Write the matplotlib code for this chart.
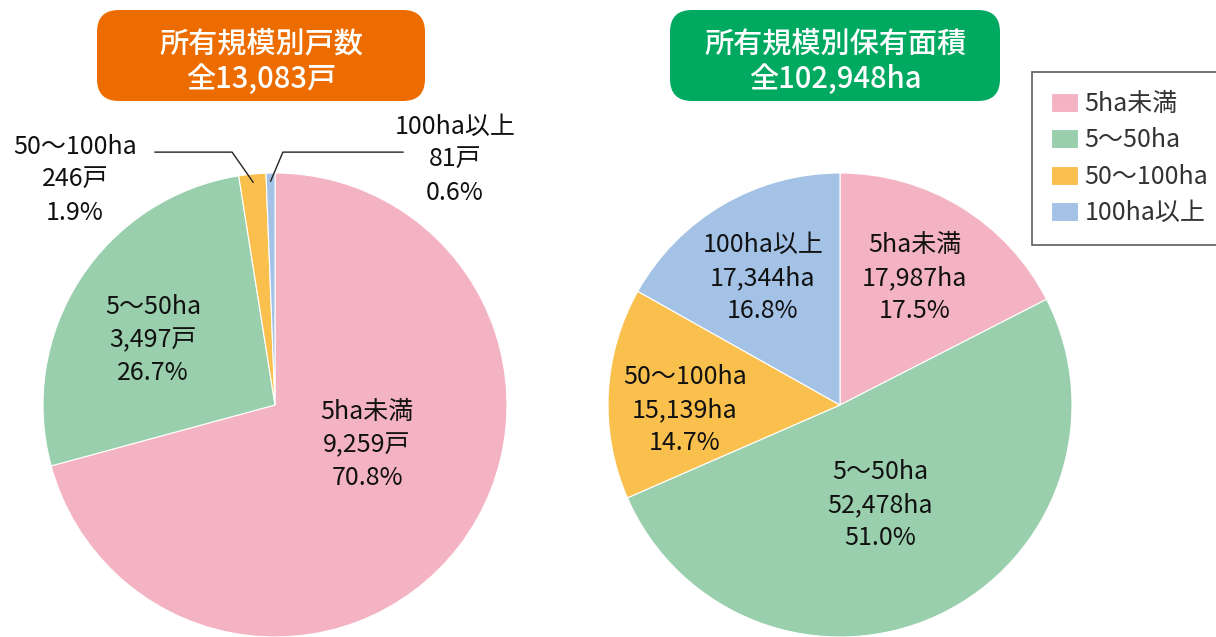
import matplotlib
matplotlib.use("Agg")
import matplotlib.pyplot as plt
from matplotlib.patches import FancyBboxPatch
import numpy as np

plt.rcParams['font.family'] = ['Noto Sans CJK JP', 'DejaVu Sans']

categories = ["5ha未満", "5〜50ha", "50〜100ha", "100ha以上"]
colors = ["#F4B3C2", "#99CFAD", "#F9C04E", "#A3C2E6"]

households = [9259, 3497, 246, 81]
household_pct = ["70.8%", "26.7%", "1.9%", "0.6%"]
household_title = "所有規模別戸数\n全13,083戸"

area = [17987, 52478, 15139, 17344]
area_pct = ["17.5%", "51.0%", "14.7%", "16.8%"]
area_title = "所有規模別保有面積\n全102,948ha"

W, H = 1216, 637
fig = plt.figure(figsize=(W / 100, H / 100), dpi=100)

R = 232
def pie_axes(cx, cy):
    return fig.add_axes([(cx - R) / W, (H - cy - R) / H, 2 * R / W, 2 * R / H])

ax1 = pie_axes(275, 405)
ax2 = pie_axes(840, 405)

wp = dict(edgecolor="white", linewidth=0.8)
w1, _ = ax1.pie(households, colors=colors, startangle=90, counterclock=False,
                wedgeprops=wp, radius=1)
w2, _ = ax2.pie(area, colors=colors, startangle=90, counterclock=False,
                wedgeprops=wp, radius=1)
for ax in (ax1, ax2):
    ax.set_xlim(-1, 1)
    ax.set_ylim(-1, 1)
    ax.set_aspect("equal")
    ax.axis("off")

fs = 18
tc = "#111111"
ls = 1.35
# label positions (data units, radius = 1)
pos1 = [(0.397, -0.172), (-0.526, 0.280), (-0.862, 0.970), (0.776, 1.056)]
pos2 = [(0.323, 0.547), (0.172, -0.431), (-0.668, -0.022), (-0.332, 0.547)]

for i, (c, v, p) in enumerate(zip(categories, households, household_pct)):
    ax1.text(pos1[i][0], pos1[i][1], f"{c}\n{v:,}戸\n{p}", ha="center", va="center",
             fontsize=fs, color=tc, linespacing=ls, clip_on=False)
for i, (c, v, p) in enumerate(zip(categories, area, area_pct)):
    ax2.text(pos2[i][0], pos2[i][1], f"{c}\n{v:,}ha\n{p}", ha="center", va="center",
             fontsize=fs, color=tc, linespacing=ls, clip_on=False)

# leader lines for small wedges
knees = {2: [(-0.517, 1.09), (-0.185, 1.09)], 3: [(0.552, 1.09), (0.034, 1.09)]}
for i, pts in knees.items():
    w = w1[i]
    ang = np.deg2rad((w.theta1 + w.theta2) / 2)
    end = (0.965 * np.cos(ang), 0.965 * np.sin(ang))
    xs = [pts[0][0], pts[1][0], end[0]]
    ys = [pts[0][1], pts[1][1], end[1]]
    ax1.plot(xs, ys, color="#222222", lw=1.0, clip_on=False)

# title boxes
def title_box(x0, x1, color, text):
    y_top, y_bot = 10, 101
    box = FancyBboxPatch((x0 / 100, (H - y_bot) / 100), (x1 - x0) / 100, (y_bot - y_top) / 100,
                         boxstyle="round,pad=0,rounding_size=0.22",
                         transform=fig.dpi_scale_trans, facecolor=color, edgecolor="none")
    fig.patches.append(box)
    fig.text((x0 + x1) / 2 / W, (H - 62) / H, text, ha="center", va="center",
             fontsize=21, color="white", linespacing=1.2, fontweight="medium")

title_box(97, 425, "#ED6C00", household_title)
title_box(670, 1000, "#00A960", area_title)

leg = fig.legend(w2, categories, loc="upper left",
                 bbox_to_anchor=(1032 / W, (H - 72) / H),
                 fontsize=fs, frameon=True, fancybox=False, edgecolor="#333333",
                 handlelength=1.1, handleheight=0.8, handletextpad=0.25,
                 labelspacing=0.42, borderpad=0.75, borderaxespad=0)
leg.get_frame().set_linewidth(1.2)
for t in leg.get_texts():
    t.set_color("#333333")

fig.savefig("out.png", dpi=100)
